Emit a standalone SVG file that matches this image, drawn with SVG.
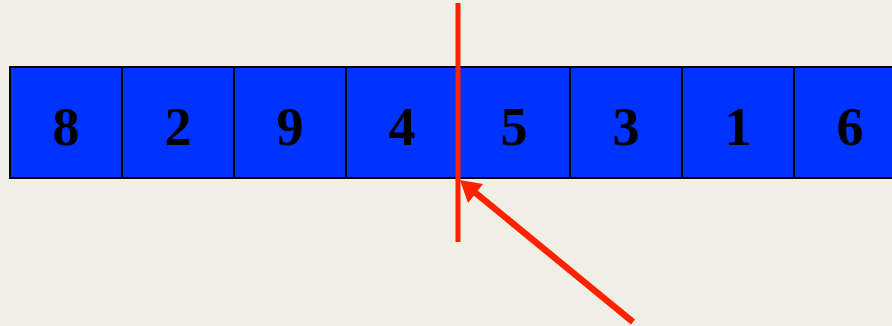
<svg xmlns="http://www.w3.org/2000/svg" width="892" height="326" viewBox="0 0 892 326">
<style>
.cell{fill:#0033FF;stroke:#000;stroke-width:2}
.num{font-family:"Liberation Serif",serif;font-weight:bold;font-size:54px;fill:#000;text-anchor:middle}
</style>
<rect width="892" height="326" fill="#F0EFE6"/>
<g id="c1"><rect class="cell" x="10" y="67" width="112" height="111"/><text class="num" x="66" y="145">8</text></g>
<g id="c2"><rect class="cell" x="122" y="67" width="112" height="111"/><text class="num" x="178" y="145">2</text></g>
<g id="c3"><rect class="cell" x="234" y="67" width="112" height="111"/><text class="num" x="290" y="145">9</text></g>
<g id="c4"><rect class="cell" x="346" y="67" width="112" height="111"/><text class="num" x="402" y="145">4</text></g>
<g id="c5"><rect class="cell" x="458" y="67" width="112" height="111"/><text class="num" x="514" y="145">5</text></g>
<g id="c6"><rect class="cell" x="570" y="67" width="112" height="111"/><text class="num" x="626" y="145">3</text></g>
<g id="c7"><rect class="cell" x="682" y="67" width="112" height="111"/><text class="num" x="738" y="145">1</text></g>
<g id="c8"><rect class="cell" x="794" y="67" width="120" height="111"/><text class="num" x="850" y="145">6</text></g>
<g id="connectors">
<line x1="458" y1="3" x2="458" y2="242" stroke="#FF2200" stroke-width="5"/>
<line x1="633" y1="322" x2="472" y2="190" stroke="#FF2200" stroke-width="6.5"/>
<polygon points="460,180 483,184 468,203" fill="#FF2200"/>
</g>
</svg>
